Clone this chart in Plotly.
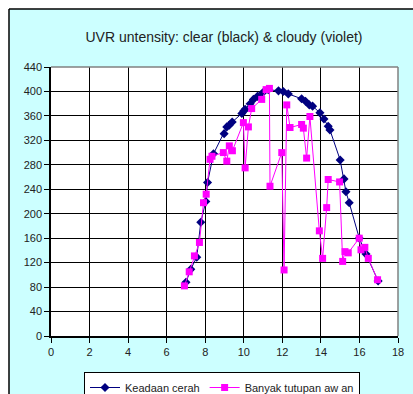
import plotly.graph_objects as go

# Clear sky (navy diamonds)
clear_x = [7.0, 7.25, 7.56, 7.77, 8.03, 8.12, 8.43, 8.98, 9.12, 9.25, 9.4, 9.9, 10.0, 10.07,
           10.33, 10.5, 10.71, 10.98, 11.27, 11.8, 12.05, 12.31, 13.0, 13.2, 13.4, 13.57,
           13.95, 14.16, 14.38, 14.47, 15.0, 15.2, 15.3, 15.47, 15.99, 16.34, 16.97]
clear_y = [88, 109, 129, 186, 220, 251, 298, 331, 342, 345, 350, 364, 368, 371,
           380, 387, 392, 398, 403, 401, 400, 396, 388, 384, 378, 376,
           365, 355, 343, 337, 288, 257, 236, 218, 160, 134, 90]

# Cloudy (magenta squares)
cloudy_x = [6.92, 7.17, 7.44, 7.70, 7.91, 8.05, 8.25, 8.35, 8.94, 9.12, 9.25, 9.41,
            9.98, 10.07, 10.24, 10.41, 10.93, 11.16, 11.33, 11.36, 11.97, 12.09, 12.23,
            12.4, 13.0, 13.09, 13.26, 13.43, 13.92, 14.09, 14.3, 14.38, 14.97, 15.13,
            15.25, 15.42, 15.99, 16.08, 16.28, 16.46, 16.94]
cloudy_y = [82, 105, 131, 153, 218, 232, 289, 294, 300, 286, 311, 303,
            349, 275, 342, 372, 387, 403, 405, 245, 300, 108, 378,
            341, 346, 340, 291, 359, 172, 127, 210, 256, 252, 122,
            138, 136, 160, 141, 145, 127, 92]

x_ticks = list(range(0, 19, 2))
y_ticks = list(range(0, 441, 40))

FONT = "Arial, Liberation Sans, sans-serif"

fig = go.Figure()
fig.add_trace(go.Scatter(
    x=clear_x, y=clear_y, mode="lines+markers", name="Keadaan cerah",
    line=dict(color="#000080", width=1),
    marker=dict(symbol="diamond", size=7, color="#000080"),
))
fig.add_trace(go.Scatter(
    x=cloudy_x, y=cloudy_y, mode="lines+markers", name="Banyak tutupan aw an",
    line=dict(color="#FF00FF", width=1),
    marker=dict(symbol="square", size=7, color="#FF00FF"),
))

W, H = 413, 394
L, R, T, B = 51, 15, 67, 58
pw, ph = W - L - R, H - T - B

def px2paper_x(px):
    return (px - L) / pw

def px2paper_y(py):
    return (H - B - py) / ph

shapes = [
    # white strips outside the chart border
    dict(type="rect", xref="paper", yref="paper", x0=px2paper_x(-5), x1=px2paper_x(9),
         y0=px2paper_y(H + 5), y1=px2paper_y(-5), fillcolor="white", line=dict(width=0), layer="above"),
    dict(type="rect", xref="paper", yref="paper", x0=px2paper_x(-5), x1=px2paper_x(W + 5),
         y0=px2paper_y(9), y1=px2paper_y(-5), fillcolor="white", line=dict(width=0), layer="above"),
    # chart border lines
    dict(type="line", xref="paper", yref="paper", x0=px2paper_x(9), x1=px2paper_x(9),
         y0=px2paper_y(H + 5), y1=px2paper_y(9), line=dict(color="black", width=1.5), layer="above"),
    dict(type="line", xref="paper", yref="paper", x0=px2paper_x(9), x1=px2paper_x(W + 5),
         y0=px2paper_y(9), y1=px2paper_y(9), line=dict(color="black", width=1.5), layer="above"),
    # gray plot-area border (top/right)
    dict(type="line", xref="paper", yref="paper", x0=0, x1=1, y0=1, y1=1,
         line=dict(color="#808080", width=1.5), layer="above"),
    dict(type="line", xref="paper", yref="paper", x0=1, x1=1, y0=0, y1=1,
         line=dict(color="#808080", width=1.5), layer="above"),
]

fig.update_layout(
    width=W, height=H,
    margin=dict(l=L, r=R, t=T, b=B, pad=0, autoexpand=False),
    paper_bgcolor="#CCFFFF",
    plot_bgcolor="white",
    font=dict(family=FONT, size=11, color="#222222"),
    title=dict(text="UVR untensity: clear (black) & cloudy (violet)",
               x=224 / W, xanchor="center", xref="container",
               y=1 - 37 / H, yanchor="middle", yref="container",
               font=dict(family=FONT, size=14, color="#222222")),
    showlegend=True,
    legend=dict(orientation="h", x=222 / W, xanchor="center", xref="container",
                y=1 - 372 / H, yanchor="top", yref="container",
                bgcolor="white", bordercolor="black", borderwidth=1,
                font=dict(family=FONT, size=11, color="#222222"),
                itemwidth=30, tracegroupgap=0),
    shapes=shapes,
    xaxis=dict(range=[0, 18], tickvals=x_ticks, ticktext=[str(v) for v in x_ticks],
               showgrid=True, gridcolor="black", gridwidth=1,
               showline=True, linecolor="black", linewidth=1.5,
               ticks="outside", ticklen=5, tickcolor="black",
               tickfont=dict(size=11),
               zeroline=False, fixedrange=True),
    yaxis=dict(range=[0, 440], tickvals=y_ticks, ticktext=[str(v) for v in y_ticks],
               showgrid=True, gridcolor="black", gridwidth=1,
               showline=True, linecolor="black", linewidth=1.5,
               ticks="outside", ticklen=5, tickcolor="black",
               tickfont=dict(size=11),
               zeroline=False, fixedrange=True),
)

fig.write_html("out.html")
